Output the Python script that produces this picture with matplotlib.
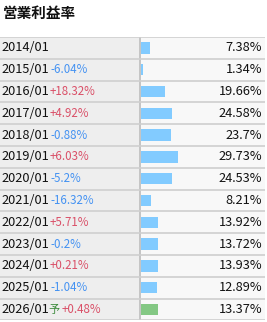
import matplotlib
matplotlib.use("Agg")
import matplotlib.pyplot as plt
import numpy as np

plt.rcParams['font.family'] = ['Noto Sans CJK JP', 'DejaVu Sans']

# ---- data ----
title = "営業利益率"
years = ['2014/01', '2015/01', '2016/01', '2017/01', '2018/01', '2019/01', '2020/01',
         '2021/01', '2022/01', '2023/01', '2024/01', '2025/01', '2026/01']
margin = [7.38, 1.34, 19.66, 24.58, 23.7, 29.73, 24.53, 8.21, 13.92, 13.72, 13.93, 12.89, 13.37]
margin_labels = ['7.38%', '1.34%', '19.66%', '24.58%', '23.7%', '29.73%', '24.53%',
                 '8.21%', '13.92%', '13.72%', '13.93%', '12.89%', '13.37%']
changes = [None, -6.04, 18.32, 4.92, -0.88, 6.03, -5.2, -16.32, 5.71, -0.2, 0.21, -1.04, 0.48]
change_labels = ['', '-6.04%', '+18.32%', '+4.92%', '-0.88%', '+6.03%', '-5.2%',
                 '-16.32%', '+5.71%', '-0.2%', '+0.21%', '-1.04%', '+0.48%']
forecast = [False] * 12 + [True]
forecast_mark = "予"

# ---- layout ----
W, H = 267, 322
fig = plt.figure(figsize=(W / 100, H / 100), dpi=100)
fig.patch.set_facecolor('white')

n = len(years)
top, row_h = 37, 21.8
bottom = top + n * row_h
tab_right = 265
split = 140

ax = fig.add_axes([0, 1 - bottom / H, tab_right / W, (bottom - top) / H])
ax.set_xlim(0, tab_right)
ax.set_ylim(n, 0)
ax.axis('off')
ax.axvspan(0, split, color='#eeeeee', zorder=0)
ax.axvspan(split, tab_right, color='#f8f8f8', zorder=0)
ax.axvline(split, color='#c4c4c4', lw=1.4, zorder=2)
for i in range(n + 1):
    ax.axhline(i, color='#cfcfcf', lw=1.2, zorder=2)

blue_txt = '#4492f2'
red_txt = '#da5068'
for i in range(n):
    yc = i + 0.5
    ax.text(1, yc, years[i], fontsize=9.2, color='#111111', va='center', ha='left', zorder=3)
    if change_labels[i]:
        col = red_txt if changes[i] > 0 else blue_txt
        x0 = 50
        if forecast[i]:
            ax.text(48, yc, forecast_mark, fontsize=8, color='#3a8a3a', va='center', ha='left', zorder=3)
            x0 = 62
        ax.text(x0, yc, change_labels[i], fontsize=8.3, color=col, va='center', ha='left', zorder=3)
    ax.text(262, yc, margin_labels[i], fontsize=9.2, color='#111111', va='center', ha='right', zorder=3)

# bars
bar_left, bar_right = 141, 263
ax2 = fig.add_axes([bar_left / W, 1 - bottom / H, (bar_right - bar_left) / W, (bottom - top) / H])
ax2.set_xlim(0, (bar_right - bar_left) / 1.245)
ax2.set_ylim(n, 0)
ax2.axis('off')
ax2.patch.set_alpha(0)
colors = ['#82cbff' if not f else '#84c884' for f in forecast]
ax2.barh(np.arange(n) + 0.5, margin, height=0.53, color=colors, zorder=1)

fig.text(3 / W, 1 - 13 / H, title, fontsize=10.5, fontweight='bold', color='#111111',
         va='center', ha='left')

fig.savefig('out.png', dpi=100)
